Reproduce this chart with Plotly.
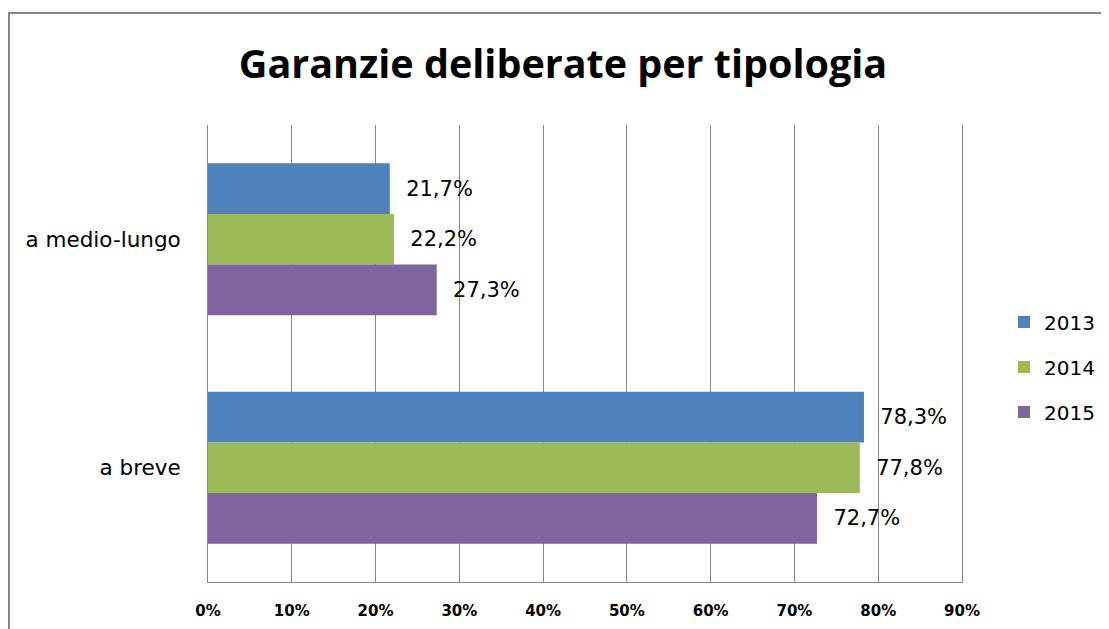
import plotly.graph_objects as go

categories = ["a medio-lungo", "a breve"]
years = ["2013", "2014", "2015"]
values_2013 = [21.7, 78.3]
values_2014 = [22.2, 77.8]
values_2015 = [27.3, 72.7]
colors = ["#4F81BD", "#9BBB59", "#8064A2"]

series = [values_2013, values_2014, values_2015]

# the page body adds an 8px margin, so the figure is 8px smaller than the window
W, H = 1101, 621


def label(v):
    # Italian decimal comma, pushed away from the bar end
    return "\u00a0\u00a0" + f"{v:.1f}".replace(".", ",") + "%"


fig = go.Figure()
for year, vals, col in zip(years, series, colors):
    fig.add_trace(go.Bar(
        y=categories,
        x=vals,
        name=year,
        orientation="h",
        marker=dict(color=col, line=dict(width=0)),
        text=[label(v) for v in vals],
        textposition="outside",
        textfont=dict(family="DejaVu Sans", size=21, color="#000000"),
        cliponaxis=False,
        legendgroup=year,
    ))

fig.update_layout(
    width=W,
    height=H,
    paper_bgcolor="white",
    plot_bgcolor="white",
    barmode="group",
    bargap=0.335,
    bargroupgap=0,
    margin=dict(l=200, r=147, t=117, b=47, autoexpand=False),
    title=dict(
        text="<b>Garanzie deliberate per tipologia</b>",
        font=dict(family="Open Sans", size=39.5, color="#000000"),
        x=555 / W, xanchor="center",
        y=1 - 56 / H, yanchor="middle",
    ),
    legend=dict(
        xref="container", yref="container",
        x=996 / W, xanchor="left",
        y=1 - 359 / H, yanchor="middle",
        font=dict(family="DejaVu Sans", size=20, color="#000000"),
        tracegroupgap=16,
        bgcolor="rgba(0,0,0,0)",
    ),
    showlegend=True,
)

fig.update_xaxes(
    range=[0, 90],
    dtick=10,
    ticksuffix="%",
    showgrid=True,
    gridcolor="#868686",
    gridwidth=1,
    showline=True,
    linecolor="#868686",
    linewidth=1,
    zeroline=False,
    ticks="",
    ticklabelstandoff=15,
    automargin=False,
    tickfont=dict(family="DejaVu Sans", size=15, color="#000000", weight="bold"),
)

fig.update_yaxes(
    autorange="reversed",
    showgrid=False,
    showline=True,
    mirror=True,
    linecolor="#868686",
    linewidth=1,
    ticks="",
    ticklabelstandoff=22,
    automargin=False,
    tickfont=dict(family="DejaVu Sans", size=21.5, color="#000000"),
)

# outer chart border (only top and left edges fall inside the picture)
fig.add_shape(
    type="rect", xref="paper", yref="paper",
    x0=-0.2639, x1=1.4, y0=-0.3, y1=1.245,
    line=dict(color="#868686", width=2),
    fillcolor="rgba(0,0,0,0)",
    layer="below",
)

fig.write_html("out.html")
